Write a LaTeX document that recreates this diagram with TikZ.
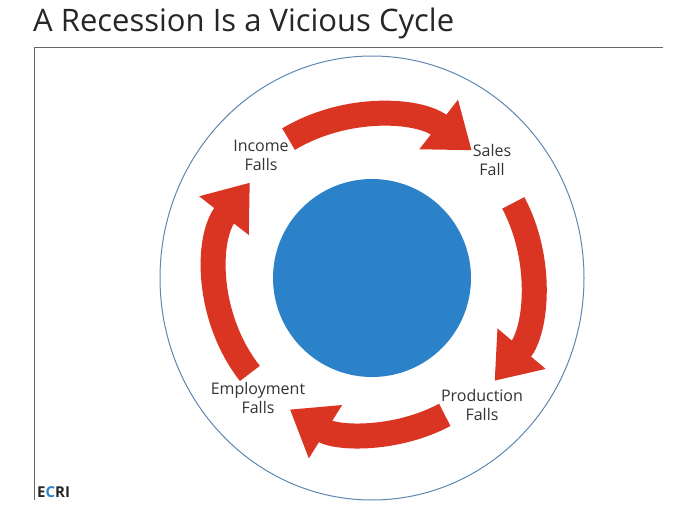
\documentclass[tikz,border=0pt]{standalone}
\usepackage{fontspec}
\setmainfont{Open Sans}
\usetikzlibrary{arrows.meta}
\definecolor{cyred}{RGB}{218,52,34}
\definecolor{cyblue}{RGB}{44,130,200}
\definecolor{ringc}{RGB}{95,135,175}
\tikzset{
  cyarrow/.style={draw=cyred,line width=25pt,-{Triangle[width=60pt,length=42pt]}},
  lab/.style={align=center,font=\fontsize{16}{19}\selectfont,text=black!80}
}
\begin{document}
\begin{tikzpicture}[x=1pt,y=-1pt]
\useasboundingbox (0,0) rectangle (683,514);
\node[anchor=west,inner sep=0pt,font=\fontsize{31}{34}\selectfont,text=black!85] (title) at (33,23) {A Recession Is a Vicious Cycle};
\draw[black!60,line width=1pt] (663,47) -- (34,47) -- (34,500);
\coordinate (c) at (372,278);
\draw[ringc,line width=1pt] (c) ellipse [x radius=212,y radius=222];
\fill[cyblue] (c) circle (99);
\begin{scope}[y=1pt]
\draw[cyarrow] ([shift={(121:162)}]c) arc (121:52:162);
\draw[cyarrow] ([shift={(28:160)}]c) arc (28:-40:160);
\draw[cyarrow] ([shift={(-62:155)}]c) arc (-62:-122:155);
\draw[cyarrow] ([shift={(-142:155)}]c) arc (-142:-218:155);
\end{scope}
\node[lab] (inc) at (261,155) {Income\\Falls};
\node[lab] (sal) at (492,160) {Sales\\Fall};
\node[lab] (pro) at (482,405) {Production\\Falls};
\node[lab] (emp) at (258,398) {Employment\\Falls};
\node[anchor=south west,inner sep=0pt,font=\bfseries\fontsize{15}{16}\selectfont] (ecri) at (37,498) {\textcolor{black!85}{E}\textcolor{cyblue}{C}\textcolor{black!85}{RI}};
\end{tikzpicture}
\end{document}
